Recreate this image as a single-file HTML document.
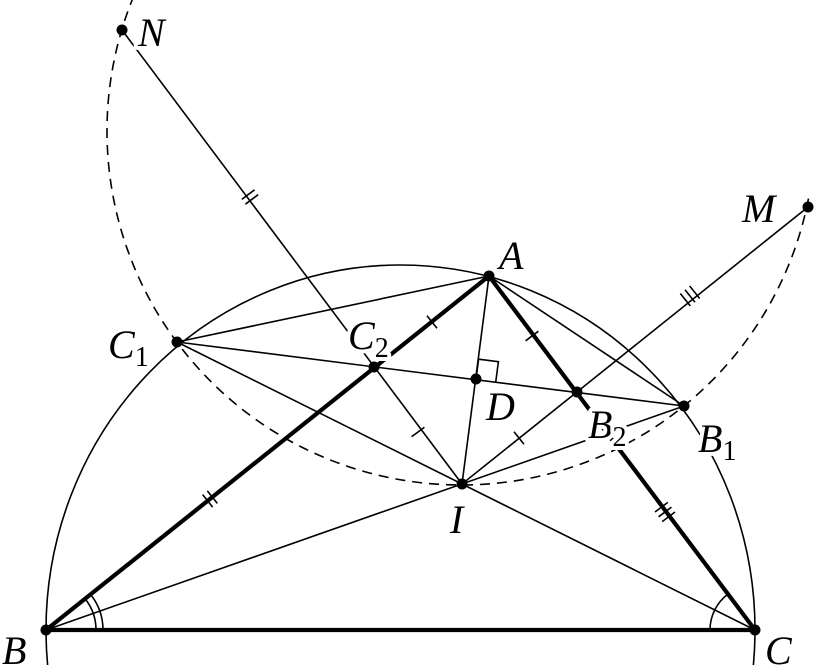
<!DOCTYPE html>
<html><head><meta charset="utf-8"><style>
html,body{margin:0;padding:0;background:#fff;overflow:hidden;}
svg{display:block}
text{font-family:"Liberation Serif",serif;font-style:italic;fill:#000;}
.l{stroke:#fff;stroke-width:8;paint-order:stroke;stroke-linejoin:round}
</style></head><body>
<svg width="814" height="670" viewBox="0 0 814 670" xmlns="http://www.w3.org/2000/svg">
<defs>
<clipPath id="cp"><rect x="0" y="0" width="814" height="665"/></clipPath>
<clipPath id="cd"><polygon points="0,-300 461,131 814,195 814,670 0,670"/></clipPath>
</defs>
<g fill="none" stroke="#000" stroke-width="1.6">
<ellipse cx="400.5" cy="630" rx="354.5" ry="365" clip-path="url(#cp)"/>
<circle cx="461" cy="131" r="354" stroke-dasharray="10,7" clip-path="url(#cd)"/>
<line x1="122" y1="30" x2="462" y2="484"/>
<line x1="462" y1="484" x2="808" y2="207"/>
<line x1="177" y1="342" x2="684" y2="406"/>
<line x1="489" y1="276" x2="177" y2="342"/>
<line x1="489" y1="276" x2="684" y2="406"/>
<line x1="489" y1="276" x2="462" y2="484"/>
<line x1="46" y1="630" x2="684" y2="406"/>
<line x1="755" y1="630" x2="177" y2="342"/>
<path d="M476,379 L478.6,359.2 L498.4,361.7 L495.8,381.5"/>
<path d="M96,630 A50,50 0 0 0 85.1,598.8"/>
<path d="M103,630 A57,57 0 0 0 90.5,594.4"/>
<path d="M710,630 A45,45 0 0 1 727.9,594.1"/>
</g>
<g stroke="#000" stroke-width="4.2">
<line x1="46" y1="630" x2="755" y2="630"/>
<line x1="46" y1="630" x2="489" y2="276"/>
<line x1="489" y1="276" x2="755" y2="630"/>
</g>
<g stroke="#000" stroke-width="1.6">
<g transform="translate(210,499) rotate(-38.6)"><line x1="-3" y1="-8" x2="-3" y2="8"/><line x1="3" y1="-8" x2="3" y2="8"/></g>
<g transform="translate(432,322) rotate(-38.6)"><line x1="0" y1="-8" x2="0" y2="8"/></g>
<g transform="translate(250,197) rotate(53.2)"><line x1="-3" y1="-8" x2="-3" y2="8"/><line x1="3" y1="-8" x2="3" y2="8"/></g>
<g transform="translate(418,432) rotate(53.2)"><line x1="0" y1="-8" x2="0" y2="8"/></g>
<g transform="translate(690,296) rotate(-38.8)"><line x1="-6" y1="-8" x2="-6" y2="8"/><line x1="0" y1="-8" x2="0" y2="8"/><line x1="6" y1="-8" x2="6" y2="8"/></g>
<g transform="translate(519,438) rotate(-38.8)"><line x1="0" y1="-8" x2="0" y2="8"/></g>
<g transform="translate(665,512) rotate(53.1)"><line x1="-6" y1="-8" x2="-6" y2="8"/><line x1="0" y1="-8" x2="0" y2="8"/><line x1="6" y1="-8" x2="6" y2="8"/></g>
<g transform="translate(532,336) rotate(53.1)"><line x1="0" y1="-8" x2="0" y2="8"/></g>
</g>
<g font-size="40">
<text class="l" x="138" y="46">N</text>
<text class="l" x="742" y="222">M</text>
<text class="l" x="499" y="269">A</text>
<text class="l" x="108" y="358">C<tspan font-size="28" font-style="normal" dy="8">1</tspan></text>
<text class="l" x="348" y="349">C<tspan font-size="28" font-style="normal" dy="8">2</tspan></text>
<text class="l" x="486" y="420">D</text>
<text class="l" x="588" y="438">B<tspan font-size="28" font-style="normal" dy="8">2</tspan></text>
<text class="l" x="698" y="452">B<tspan font-size="28" font-style="normal" dy="8">1</tspan></text>
<text class="l" x="450" y="533">I</text>
<text x="2" y="664">B</text>
<text x="765" y="664">C</text>
</g>
<g fill="#000">
<circle cx="46" cy="630" r="5.5"/><circle cx="755" cy="630" r="5.5"/>
<circle cx="489" cy="276" r="5.5"/><circle cx="462" cy="484" r="5.5"/>
<circle cx="177" cy="342" r="5.5"/><circle cx="374" cy="367" r="5.5"/>
<circle cx="476" cy="379" r="5.5"/><circle cx="577" cy="392" r="5.5"/>
<circle cx="684" cy="406" r="5.5"/><circle cx="122" cy="30" r="5.5"/>
<circle cx="808" cy="207" r="5.5"/>
</g>
</svg>
</body></html>
